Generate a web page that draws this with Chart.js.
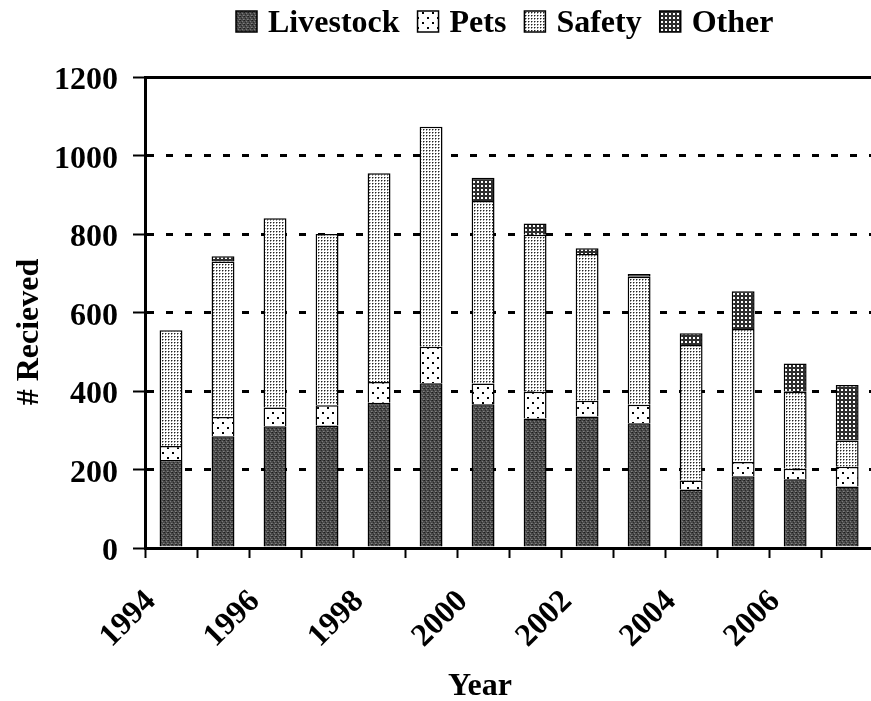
<!DOCTYPE html>
<html>
<head>
<meta charset="utf-8">
<script src="https://cdn.jsdelivr.net/npm/chart.js@4.4.0/dist/chart.umd.min.js"></script>
<style>
  html, body { margin: 0; padding: 0; overflow: hidden; background: #fff; }
  #wrap { width: 900px; height: 701px; }
</style>
</head>
<body>
<div id="wrap"><canvas id="chart"></canvas></div>
<script>
const years = ['1994', '1995', '1996', '1997', '1998', '1999', '2000',
               '2001', '2002', '2003', '2004', '2005', '2006', '2007'];
const livestock = [224, 285, 310, 312, 370, 420, 366, 330, 335, 318, 149, 183, 175, 157];
const pets      = [36, 49, 48, 52, 53, 93, 53, 68, 40, 47, 23, 36, 27, 50];
const safety    = [295, 396, 482, 436, 532, 560, 465, 400, 374, 326, 345, 339, 196, 67];
const other     = [0, 13, 0, 0, 0, 0, 59, 29, 15, 7, 30, 96, 72, 141];
const shownYears = ['1994', '1996', '1998', '2000', '2002', '2004', '2006'];
const yMax = 1200;
const yStep = 200;

const FONT = "'Liberation Serif', 'DejaVu Serif', serif";
Chart.defaults.font.family = FONT;
const canvas = document.getElementById('chart');
const mainCtx = canvas.getContext('2d');

// small tiles used as fill patterns (scanned print look)
function makePattern(w, h, bg, dots) {
  const c = document.createElement('canvas');
  c.width = w; c.height = h;
  const g = c.getContext('2d');
  g.fillStyle = bg;
  g.fillRect(0, 0, w, h);
  dots.forEach(d => {
    g.fillStyle = d[4];
    g.fillRect(d[0], d[1], d[2], d[3]);
  });
  return mainCtx.createPattern(c, 'repeat');
}

const livestockFill = makePattern(4, 4, '#4a4a4a', [
  [0, 0, 1, 1, '#1e1e1e'], [2, 1, 1, 1, '#7a7a7a'], [1, 2, 1, 1, '#2a2a2a'],
  [3, 3, 1, 1, '#808080'], [3, 0, 1, 1, '#333'], [0, 3, 1, 1, '#666']
]);
const petsFill = makePattern(10, 10, '#fff', [[2, 2, 2, 2, '#000'], [7, 7, 2, 2, '#000']]);
const safetyFill = makePattern(3, 3, '#fff', [
  [0, 0, 1, 1, '#222'], [1, 0, 1, 1, '#999'], [0, 1, 1, 1, '#999']
]);
const otherFill = makePattern(4, 4, '#2e2e2e', [[1, 1, 2, 2, '#fff']]);

const decorations = {
  id: 'decorations',
  afterDraw(chart) {
    const ctx = chart.ctx;
    ctx.save();
    ctx.font = 'bold 32px ' + FONT;
    ctx.textBaseline = 'alphabetic';
    ctx.textAlign = 'left';
    // legend row
    let x = 236;
    chart.data.datasets.forEach(ds => {
      ctx.fillStyle = ds.backgroundColor;
      ctx.fillRect(x, 11, 21, 21);
      ctx.strokeStyle = '#000';
      ctx.lineWidth = 1.5;
      ctx.strokeRect(x, 11, 21, 21);
      ctx.fillStyle = '#000';
      ctx.fillText(ds.label, x + 32, 32);
      x += 32 + ctx.measureText(ds.label).width + 18;
    });
    // axis titles
    ctx.textAlign = 'center';
    ctx.fillText('Year', 480, 695);
    ctx.translate(38, 332);
    ctx.rotate(-Math.PI / 2);
    ctx.fillText('# Recieved', 0, 0);
    ctx.restore();
  }
};

const barStyle = { borderColor: '#000', borderWidth: 1.5, barPercentage: 0.5, categoryPercentage: 0.88 };

new Chart(mainCtx, {
  type: 'bar',
  data: {
    labels: years,
    datasets: [
      { label: 'Livestock', data: livestock, backgroundColor: livestockFill, ...barStyle },
      { label: 'Pets', data: pets, backgroundColor: petsFill, ...barStyle },
      { label: 'Safety', data: safety, backgroundColor: safetyFill, ...barStyle },
      { label: 'Other', data: other, backgroundColor: otherFill, ...barStyle }
    ]
  },
  options: {
    responsive: true,
    maintainAspectRatio: false,
    animation: false,
    layout: { padding: { left: 0, right: 19, top: 77, bottom: 0 } },
    plugins: { legend: { display: false }, tooltip: { enabled: false } },
    scales: {
      x: {
        stacked: true,
        afterFit: s => { s.height = 153; },
        grid: { drawOnChartArea: false, drawTicks: true, tickLength: 10, tickWidth: 2, color: '#000' },
        border: { display: true, color: '#000', width: 3 },
        ticks: {
          autoSkip: false,
          minRotation: 45,
          maxRotation: 45,
          padding: 25,
          labelOffset: -20,
          color: '#000',
          font: { family: FONT, size: 32, weight: 'bold' },
          callback: (v, i) => shownYears.includes(years[i]) ? years[i] : ''
        }
      },
      y: {
        stacked: true,
        min: 0,
        max: yMax,
        afterFit: s => { s.width = 145; },
        grid: { color: '#000', lineWidth: 3, tickLength: 12, tickWidth: 2 },
        border: {
          display: true, color: '#000', width: 3,
          dash: c => (c.tick && c.tick.value === yMax) ? [] : [7, 12]
        },
        ticks: {
          stepSize: yStep,
          padding: 15,
          labelOffset: 4,
          color: '#000',
          font: { family: FONT, size: 32, weight: 'bold' },
          callback: v => String(v)
        }
      }
    }
  },
  plugins: [decorations]
});
</script>
</body>
</html>
